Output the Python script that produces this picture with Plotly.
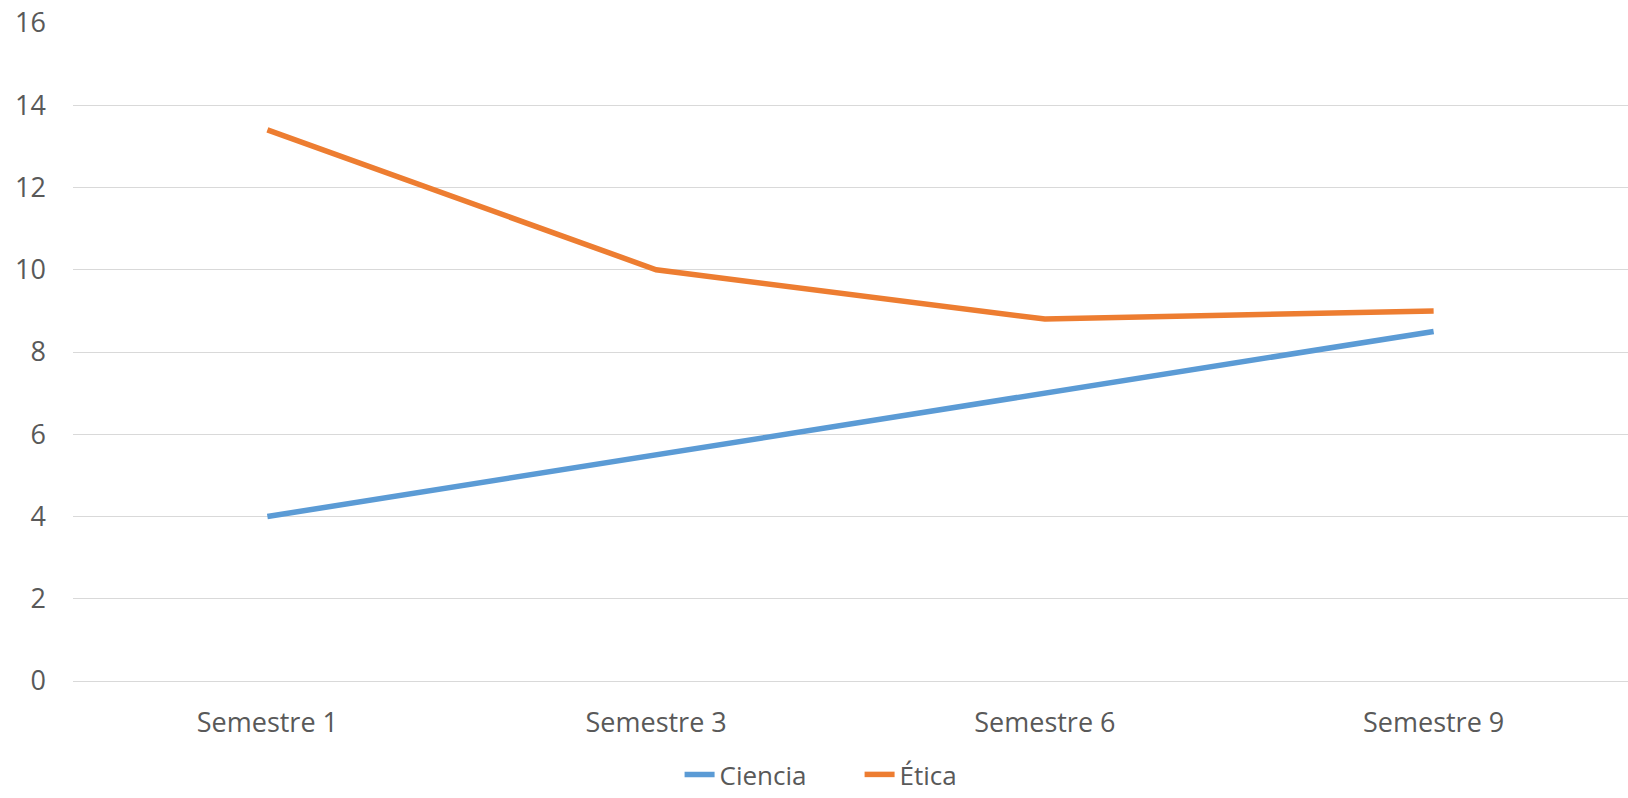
import plotly.graph_objects as go

categories = ["Semestre 1", "Semestre 3", "Semestre 6", "Semestre 9"]
ciencia = [4, 5.5, 7, 8.5]
etica = [13.4, 10, 8.8, 9]
y_ticks = [0, 2, 4, 6, 8, 10, 12, 14, 16]

FONT = "Open Sans"
TXT = "#595959"

fig = go.Figure()
fig.add_trace(go.Scatter(x=categories, y=ciencia, mode="lines", name="Ciencia",
                         line=dict(color="#5B9BD5", width=5.5)))
fig.add_trace(go.Scatter(x=categories, y=etica, mode="lines", name="Ética",
                         line=dict(color="#ED7D31", width=5.5)))

fig.update_layout(
    width=1628, height=798,
    margin=dict(l=73, r=0, t=23, b=117, autoexpand=False),
    paper_bgcolor="white", plot_bgcolor="white",
    font=dict(family=FONT, color=TXT, size=26),
    showlegend=True,
    legend=dict(orientation="h", x=0.528, xref="container", xanchor="center",
                y=0.0, yref="container", yanchor="bottom",
                font=dict(size=26, color=TXT), itemwidth=30, entrywidth=135,
                tracegroupgap=0, borderwidth=0),
)
fig.update_xaxes(type="category", showgrid=False, showline=False, zeroline=False,
                 tickfont=dict(size=27, color=TXT), ticks="", ticklabelstandoff=23,
                 range=[-0.5, 3.5])
fig.update_yaxes(range=[0, 16], tickvals=y_ticks, showgrid=True, gridcolor="#D9D9D9",
                 gridwidth=1.3, zeroline=True, zerolinecolor="#D9D9D9", zerolinewidth=1.3,
                 showline=False, ticks="", tickfont=dict(size=27, color=TXT),
                 ticklabelstandoff=26)

fig.write_html("out.html")
